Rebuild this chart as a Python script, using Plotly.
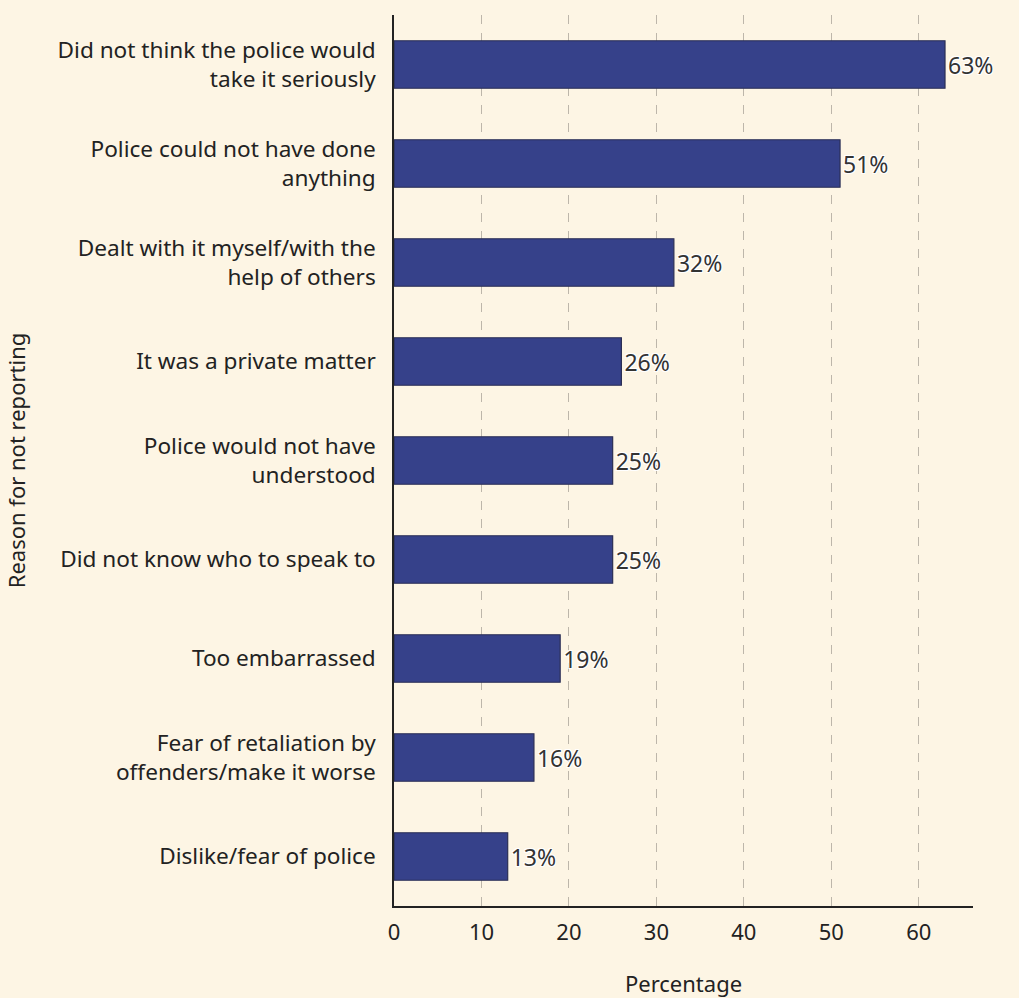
import plotly.graph_objects as go

categories = [
    "Did not think the police would<br>take it seriously",
    "Police could not have done<br>anything",
    "Dealt with it myself/with the<br>help of others",
    "It was a private matter",
    "Police would not have<br>understood",
    "Did not know who to speak to",
    "Too embarrassed",
    "Fear of retaliation by<br>offenders/make it worse",
    "Dislike/fear of police",
]
values = [63, 51, 32, 26, 25, 25, 19, 16, 13]
labels = [f"{v}%" for v in values]
x_ticks = [0, 10, 20, 30, 40, 50, 60]

font_family = "Noto Sans, Open Sans, sans-serif"
bg = "#fdf5e4"

fig = go.Figure(go.Bar(
    y=categories,
    x=values,
    orientation="h",
    width=0.48,
    marker=dict(color="#36418a", line=dict(color="#2b2f55", width=1.2)),
    text=labels,
    textposition="outside",
    cliponaxis=False,
    textfont=dict(size=23, color="#333333", family=font_family,
                  shadow="1px 1px 0 #ffffff, -1px -1px 0 #ffffff, 1px -1px 0 #ffffff, -1px 1px 0 #ffffff"),
))

fig.update_layout(
    width=1019, height=998,
    margin=dict(l=394, r=46, t=15, b=92),
    paper_bgcolor=bg, plot_bgcolor=bg,
    font=dict(family=font_family, size=22, color="#222222"),
    showlegend=False,
)
fig.update_xaxes(
    range=[0, 66.2], tickvals=x_ticks, ticks="",
    automargin=False,
    showgrid=True, gridcolor="#bdb6aa", griddash="dash", gridwidth=1,
    showline=True, linecolor="#222222", linewidth=1.5,
    zeroline=False,
    tickfont=dict(size=22),
    ticklabelstandoff=6,
    title=dict(text="Percentage", font=dict(size=22), standoff=34),
)
fig.update_yaxes(
    autorange=False, range=[8.5, -0.5],
    categoryorder="array", categoryarray=categories,
    automargin=False,
    showline=True, linecolor="#222222", linewidth=1.5,
    ticks="", showgrid=False, zeroline=False,
    tickfont=dict(size=22.6),
    ticklabelstandoff=12,
    title=dict(text="Reason for not reporting", font=dict(size=22), standoff=26),
)

fig.write_html("out.html")
